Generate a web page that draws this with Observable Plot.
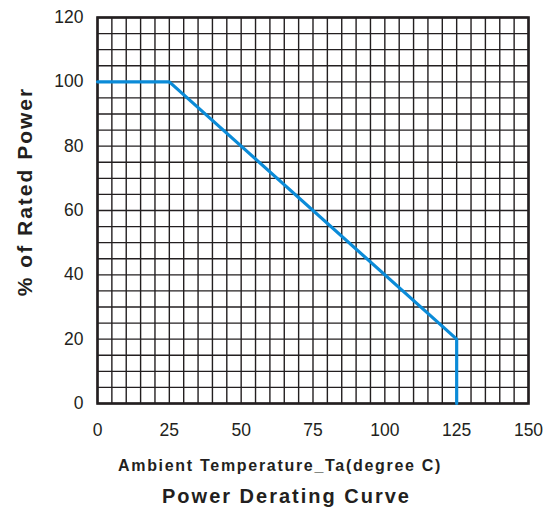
<!DOCTYPE html>
<html>
<head>
<meta charset="utf-8">
<script src="https://cdn.jsdelivr.net/npm/d3@7"></script>
<script src="https://cdn.jsdelivr.net/npm/@observablehq/plot@0.6"></script>
<style>
  body { margin: 0; background: #fff; font-family: "Liberation Sans", Arial, sans-serif; }
  #wrap { width: 551px; }
  #title { width: 551px; text-align: center; font-weight: bold; font-size: 20px; letter-spacing: 2px; color: #231f20; line-height: 24px; margin-top: 0px; padding-left: 22px; box-sizing: border-box; }
</style>
</head>
<body>
<div id="wrap"></div>
<script>
const temperature = [0, 25, 125, 125];
const ratedPower = [100, 100, 20, 0];
const xTicks = [0, 25, 50, 75, 100, 125, 150];
const yTicks = [0, 20, 40, 60, 80, 100, 120];
const xGrid = d3.range(0, 151, 5);
const yGrid = d3.range(0, 121, 5);
const xLabel = "Ambient Temperature_Ta(degree C)";
const yLabel = "% of Rated Power";
const title = "Power Derating Curve";

const data = temperature.map((t, i) => ({t, p: ratedPower[i]}));
const ink = "#231f20";

const chart = Plot.plot({
  width: 551,
  height: 484,
  marginLeft: 97,
  marginRight: 23,
  marginTop: 17,
  marginBottom: 81,
  style: {fontFamily: "'Liberation Sans', Arial, sans-serif", fontSize: "17.5px", color: ink, background: "#fff"},
  x: {domain: [0, 150], ticks: xTicks, tickSize: 0, tickPadding: 20, label: null},
  y: {domain: [0, 120], ticks: yTicks, tickSize: 0, tickPadding: 14, label: null},
  marks: [
    Plot.ruleX(xGrid, {stroke: ink, strokeWidth: 1.4}),
    Plot.ruleY(yGrid, {stroke: ink, strokeWidth: 1.4}),
    Plot.frame({stroke: ink, strokeWidth: 2.6}),
    Plot.line(data, {x: "t", y: "p", stroke: "#0b8bd8", strokeWidth: 3.2, strokeLinejoin: "miter"}),
    Plot.text([xLabel], {frameAnchor: "bottom", dy: 67, dx: -33, textAnchor: "middle", fontWeight: "bold", fontSize: 16, fill: ink}),
    Plot.text([yLabel], {frameAnchor: "left", dx: -72, dy: -19, textAnchor: "middle", rotate: -90, fontWeight: "bold", fontSize: 21, fill: ink})
  ]
});
d3.select(chart).selectAll("text").each(function() {
  const s = this.textContent;
  if (s === xLabel) this.setAttribute("letter-spacing", "1.7px");
  if (s === yLabel) this.setAttribute("letter-spacing", "2px");
});
document.getElementById("wrap").appendChild(chart);
const t = document.createElement("div");
t.id = "title";
t.textContent = title;
document.getElementById("wrap").appendChild(t);
</script>
</body>
</html>
